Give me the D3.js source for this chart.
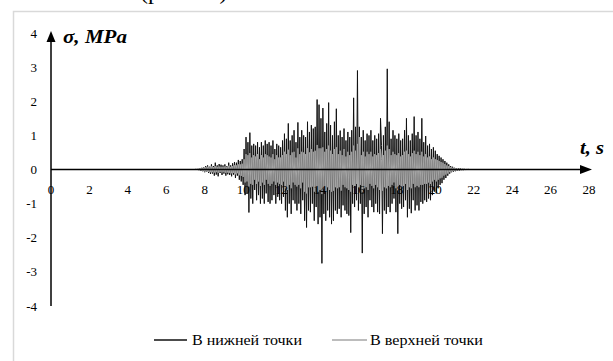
<!DOCTYPE html>
<html>
<head>
<meta charset="utf-8">
<script src="https://cdn.jsdelivr.net/npm/d3@7"></script>
<style>
  html, body { margin: 0; padding: 0; background: #fff; }
  svg { display: block; }
  text { font-family: "Liberation Serif", "Times New Roman", serif; }
</style>
</head>
<body>
<svg id="chart" width="613" height="361"></svg>
<script>
// Stress history at two points of the structure, sampled every 0.05 s from 7.5 s
const sampleStart = 7.5;
const sampleStep = 0.05;

// В нижней точки (lower point), MPa — one row per 0.5 s
const lowerPoint = [
  0, 0.01, -0.01, 0.02, -0.02, 0.03, -0.04, 0.05, -0.05, 0.06,
  -0.08, 0.1, -0.07, 0.12, -0.1, 0.08, -0.13, 0.15, -0.12, 0.1,
  -0.18, 0.2, -0.15, 0.12, -0.2, 0.16, -0.1, 0.14, -0.16, 0.12,
  -0.12, 0.15, -0.18, 0.1, -0.14, 0.2, -0.16, 0.12, -0.2, 0.18,
  -0.15, 0.22, -0.25, 0.2, -0.18, 0.28, -0.3, 0.25, -0.35, 0.3,
  -0.45, 0.6, -0.75, 0.95, -0.7, 0.8, -1.26, 1.08, -0.85, 0.7,
  -1.0, 0.75, -0.6, 0.7, -0.9, 0.8, -0.75, 0.65, -1.0, 0.8,
  -0.85, 0.7, -1.0, 0.85, -0.7, 0.75, -0.95, 0.8, -1.0, 0.7,
  -0.9, 0.85, -0.75, 0.6, -1.0, 0.75, -0.8, 0.7, -0.9, 0.65,
  -1.0, 0.85, -0.8, 1.05, -1.2, 0.9, -1.4, 1.35, -1.0, 0.85,
  -1.3, 1.0, -0.9, 1.15, -1.0, 0.8, -1.2, 1.38, -1.0, 0.95,
  -1.3, 1.15, -0.9, 1.0, -1.5, 0.95, -1.7, 1.4, -1.2, 1.1,
  -1.25, 1.3, -1.0, 1.2, -1.5, 1.25, -1.1, 2.05, -1.6, 1.9,
  -1.4, 1.5, -2.75, 1.8, -1.3, 1.1, -1.5, 1.35, -1.2, 1.96,
  -1.4, 1.3, -1.6, 1.0, -1.5, 1.4, -1.2, 1.78, -1.3, 1.0,
  -1.15, 1.14, -1.4, 0.95, -1.05, 1.2, -1.2, 0.85, -1.3, 1.1,
  -1.35, 0.95, -1.85, 1.15, -1.0, 2.1, -1.1, 1.25, -0.9, 2.9,
  -1.2, 1.25, -1.0, 0.95, -2.45, 1.15, -1.3, 0.85, -1.1, 1.05,
  -1.4, 1.0, -0.9, 1.15, -1.1, 0.85, -1.25, 1.0, -1.0, 0.9,
  -1.25, 1.05, -1.3, 1.5, 0.7, -1.88, 1.0, -1.2, 1.25, -1.3,
  2.95, -1.1, 1.4, -1.25, 0.9, -1.0, 1.15, -0.85, 1.0, -1.25,
  0.9, -1.88, 1.05, -1.0, 0.85, -1.15, 0.9, -1.1, 1.15, -0.9,
  1.5, -1.4, 1.0, -1.15, 0.85, -1.28, 1.05, -0.9, 1.55, -1.2,
  1.0, -1.05, 1.1, -1.2, 0.9, -0.95, 1.5, -1.0, 0.8, -0.9,
  0.98, -0.95, 0.7, -0.85, 0.75, -0.9, 0.6, -0.75, 0.65, -0.65,
  0.55, -0.7, 0.45, -0.55, 0.4, -0.45, 0.35, -0.4, 0.3, -0.3,
  0.25, -0.25, 0.2, -0.18, 0.15, -0.12, 0.1, -0.08, 0.08, -0.06,
  0.05, -0.05, 0.04, -0.04, 0.03, -0.03, 0.03, -0.02, 0.02, -0.02,
  0.02, -0.01, 0.01, -0.01, 0.01, 0, 0, 0, 0, 0,
  0
];

// В верхней точки (upper point), MPa — one row per 0.5 s
const upperPoint = [
  0, 0.01, -0.01, 0.02, -0.02, 0.03, -0.03, 0.04, -0.05, 0.05,
  -0.06, 0.07, -0.06, 0.08, -0.07, 0.06, -0.08, 0.09, -0.08, 0.07,
  -0.09, 0.1, -0.08, 0.08, -0.1, 0.09, -0.07, 0.08, -0.09, 0.08,
  -0.08, 0.09, -0.1, 0.08, -0.09, 0.11, -0.1, 0.08, -0.11, 0.1,
  -0.1, 0.12, -0.14, 0.12, -0.11, 0.15, -0.17, 0.15, -0.19, 0.17,
  -0.22, 0.3, -0.38, 0.45, -0.35, 0.42, -0.5, 0.48, -0.42, 0.35,
  -0.45, 0.42, -0.3, 0.38, -0.42, 0.45, -0.35, 0.3, -0.48, 0.42,
  -0.38, 0.35, -0.45, 0.45, -0.3, 0.42, -0.42, 0.38, -0.48, 0.35,
  -0.42, 0.45, -0.35, 0.3, -0.45, 0.42, -0.38, 0.35, -0.42, 0.35,
  -0.45, 0.42, -0.35, 0.52, -0.55, 0.45, -0.6, 0.58, -0.45, 0.42,
  -0.55, 0.5, -0.38, 0.52, -0.45, 0.35, -0.5, 0.62, -0.45, 0.45,
  -0.55, 0.52, -0.38, 0.5, -0.65, 0.45, -0.7, 0.62, -0.52, 0.5,
  -0.52, 0.6, -0.5, 0.52, -0.65, 0.55, -0.52, 0.72, -0.65, 0.62,
  -0.6, 0.62, -0.72, 0.65, -0.55, 0.52, -0.65, 0.6, -0.52, 0.7,
  -0.6, 0.55, -0.65, 0.45, -0.62, 0.6, -0.52, 0.65, -0.55, 0.45,
  -0.52, 0.55, -0.62, 0.42, -0.45, 0.6, -0.52, 0.38, -0.55, 0.52,
  -0.6, 0.42, -0.65, 0.52, -0.45, 0.7, -0.48, 0.55, -0.42, 0.75,
  -0.52, 0.95, -0.45, 0.42, -0.65, 0.52, -0.55, 0.38, -0.52, 0.52,
  -0.6, 0.45, -0.42, 0.52, -0.48, 0.38, -0.55, 0.45, -0.45, 0.42,
  -0.52, 0.48, -0.6, 0.6, 0.3, -0.62, 0.42, -0.52, 0.55, -0.55,
  0.7, -0.48, 0.6, -0.52, 0.42, -0.45, 0.52, -0.38, 0.45, -0.55,
  0.42, -0.62, 0.48, -0.45, 0.38, -0.52, 0.42, -0.48, 0.52, -0.42,
  0.55, -0.6, 0.45, -0.52, 0.38, -0.55, 0.48, -0.42, 0.55, -0.52,
  0.45, -0.48, 0.52, -0.52, 0.42, -0.45, 0.52, -0.45, 0.38, -0.42,
  0.45, -0.42, 0.35, -0.38, 0.38, -0.42, 0.3, -0.35, 0.35, -0.3,
  0.3, -0.35, 0.28, -0.3, 0.25, -0.26, 0.22, -0.24, 0.2, -0.18,
  0.16, -0.15, 0.12, -0.12, 0.1, -0.08, 0.07, -0.06, 0.05, -0.04,
  0.04, -0.03, 0.03, -0.03, 0.02, -0.02, 0.02, -0.01, 0.01, -0.01,
  0.01, -0.01, 0.01, 0, 0, 0, 0, 0, 0, 0,
  0
];

const timeTicks = [0, 2, 4, 6, 8, 10, 12, 14, 16, 18, 20, 22, 24, 26, 28];
const stressTicks = [-4, -3, -2, -1, 0, 1, 2, 3, 4];
const seriesNames = ["В нижней точки", "В верхней точки"];
const seriesColors = ["#111111", "#a6a6a6"];

const svg = d3.select("#chart");

const x = d3.scaleLinear().domain([0, 28]).range([51, 589]);
const y = d3.scaleLinear().domain([-4, 4]).range([306, 33]);

// caption of the figure, running off the top edge
svg.append("text")
  .attr("x", 140).attr("y", -1)
  .attr("font-size", 24)
  .attr("fill", "#000")
  .text("(рис. 10)");

// outer frame
svg.append("rect")
  .attr("x", 13.5).attr("y", 11.5)
  .attr("width", 620).attr("height", 370)
  .attr("fill", "none")
  .attr("stroke", "#d9d9d9")
  .attr("stroke-width", 1.5);

// series lines; each starts from rest at t = 0
[lowerPoint, upperPoint].forEach((vals, k) => {
  const pts = [[0, 0]].concat(vals.map((v, i) => [sampleStart + i * sampleStep, v]));
  svg.append("path")
    .datum(pts)
    .attr("fill", "none")
    .attr("stroke", seriesColors[k])
    .attr("stroke-width", 1)
    .attr("stroke-linejoin", "round")
    .attr("d", d3.line().x(d => x(d[0])).y(d => y(d[1])));
});

// axes with arrowheads
const axisColor = "#000";
svg.append("line")
  .attr("x1", x(0)).attr("x2", x(0))
  .attr("y1", y(-4)).attr("y2", 40)
  .attr("stroke", axisColor).attr("stroke-width", 1.5);
svg.append("path")
  .attr("d", `M${x(0)},31 L${x(0) - 4.5},42 L${x(0) + 4.5},42 Z`)
  .attr("fill", axisColor);

svg.append("line")
  .attr("x1", x(0)).attr("x2", 582)
  .attr("y1", y(0)).attr("y2", y(0))
  .attr("stroke", axisColor).attr("stroke-width", 1.5);
svg.append("path")
  .attr("d", `M592,${y(0)} L580,${y(0) - 4.5} L580,${y(0) + 4.5} Z`)
  .attr("fill", axisColor);

// tick labels
svg.append("g")
  .selectAll("text")
  .data(timeTicks)
  .join("text")
  .attr("x", d => x(d))
  .attr("y", y(0) + 24)
  .attr("text-anchor", "middle")
  .attr("font-size", 13)
  .attr("fill", "#000")
  .text(d => d);

svg.append("g")
  .selectAll("text")
  .data(stressTicks)
  .join("text")
  .attr("x", 37)
  .attr("y", d => y(d) + 4.5)
  .attr("text-anchor", "end")
  .attr("font-size", 13)
  .attr("fill", "#000")
  .text(d => d);

// axis titles
svg.append("text")
  .attr("x", 63).attr("y", 43)
  .attr("font-size", 18)
  .attr("font-weight", "bold")
  .attr("font-style", "italic")
  .attr("textLength", 64)
  .attr("lengthAdjust", "spacingAndGlyphs")
  .text("σ, MPa");

svg.append("text")
  .attr("x", 580).attr("y", 154)
  .attr("font-size", 18)
  .attr("font-weight", "bold")
  .attr("font-style", "italic")
  .attr("textLength", 24)
  .attr("lengthAdjust", "spacingAndGlyphs")
  .text("t, s");

// legend
const legendItems = [
  { x1: 154, x2: 187, tx: 192, w: 110 },
  { x1: 332, x2: 367, tx: 370, w: 113 }
];
const lg = svg.append("g");
legendItems.forEach((it, k) => {
  lg.append("line")
    .attr("x1", it.x1).attr("x2", it.x2)
    .attr("y1", 340).attr("y2", 340)
    .attr("stroke", seriesColors[k]).attr("stroke-width", 1.5);
  lg.append("text")
    .attr("x", it.tx).attr("y", 345)
    .attr("font-size", 14.5)
    .attr("fill", "#000")
    .attr("textLength", it.w)
    .attr("lengthAdjust", "spacingAndGlyphs")
    .text(seriesNames[k]);
});
</script>
</body>
</html>
